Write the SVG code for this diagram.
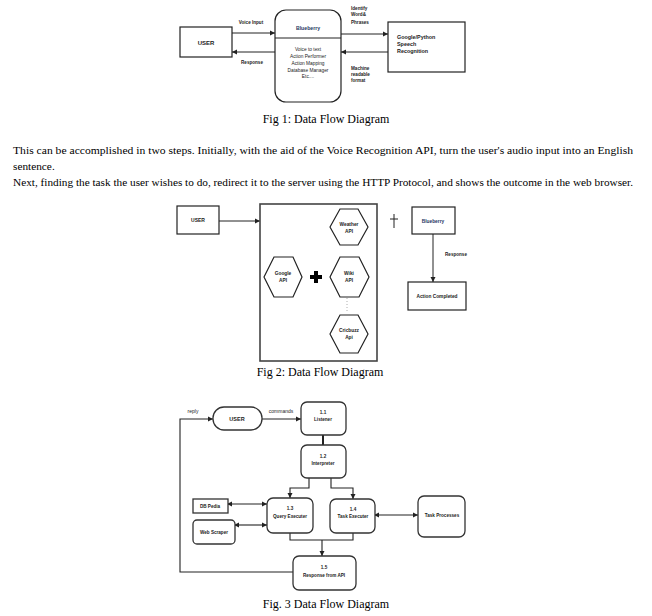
<svg xmlns="http://www.w3.org/2000/svg" width="652" height="616" viewBox="0 0 652 616">
<style>
.bg{fill:#fff}
.box{fill:#fff;stroke:#222;stroke-width:1.2}
.box3{fill:#fff;stroke:#333;stroke-width:1.3}
.ln{fill:none;stroke:#222;stroke-width:1}
.ln3{fill:none;stroke:#222;stroke-width:1.1}
.t{font-family:"Liberation Sans",Arial,sans-serif;font-weight:bold;fill:#222;text-anchor:middle}
.tn{font-family:"Liberation Sans",Arial,sans-serif;fill:#222;text-anchor:middle}
.tl{font-family:"Liberation Sans",Arial,sans-serif;font-weight:bold;fill:#222}
.cap{font-family:"Liberation Serif","Times New Roman",serif;font-size:12px;fill:#000;text-anchor:middle}
.para{font-family:"Liberation Serif","Times New Roman",serif;font-size:11.3px;fill:#000}
.blue{fill:#1f3864}
</style>
<defs>
<marker id="ah" markerUnits="userSpaceOnUse" markerWidth="6" markerHeight="6" refX="5" refY="3" orient="auto"><path d="M0,0.5 L5,3 L0,5.5 Z" fill="#222"/></marker>
<marker id="as" markerUnits="userSpaceOnUse" markerWidth="6" markerHeight="6" refX="1" refY="3" orient="auto"><path d="M5,0.5 L0,3 L5,5.5 Z" fill="#222"/></marker>
</defs>
<rect class="bg" x="0" y="0" width="652" height="616"/>

<!-- Fig 1 -->
<g id="connectors-fig1">
<line class="ln" x1="232" y1="33" x2="275" y2="33" marker-end="url(#ah)"/>
<line class="ln" x1="275" y1="52" x2="232" y2="52" marker-end="url(#ah)"/>
<line class="ln" x1="341" y1="34" x2="388" y2="34" marker-end="url(#ah)"/>
<line class="ln" x1="388" y1="52" x2="341" y2="52" marker-end="url(#ah)"/>
<text class="t" x="251" y="24" font-size="4.6">Voice Input</text>
<text class="t" x="252" y="64" font-size="4.6">Response</text>
<text class="tl" x="351" y="10" font-size="4.6">Identify</text>
<text class="tl" x="351" y="16" font-size="4.6">Word&amp;</text>
<text class="tl" x="351" y="24" font-size="4.6">Phrases</text>
<text class="tl" x="351" y="70" font-size="4.6">Machine</text>
<text class="tl" x="351" y="76" font-size="4.6">readable</text>
<text class="tl" x="351" y="82" font-size="4.6">format</text>
</g>
<g id="f1-user">
<rect class="box" x="180" y="27" width="52" height="30"/>
<text class="t" x="206" y="45" font-size="6">USER</text>
</g>
<g id="f1-blueberry">
<rect class="box" x="275" y="10" width="66" height="92" rx="11"/>
<line class="ln" x1="275" y1="38" x2="341" y2="38"/>
<text class="t blue" x="308" y="30" font-size="5.2">Blueberry</text>
<text class="tn" x="308" y="51" font-size="4.8">Voice to text</text>
<text class="tn" x="308" y="58" font-size="4.8">Action Performer</text>
<text class="tn" x="308" y="65" font-size="4.8">Action Mapping</text>
<text class="tn" x="308" y="72" font-size="4.8">Database Manager</text>
<text class="tn" x="308" y="78" font-size="4.8">Etc....</text>
</g>
<g id="f1-google">
<rect class="box" x="388" y="22" width="77" height="50"/>
<text class="tl" x="397" y="39" font-size="5.4">Google/Python</text>
<text class="tl" x="397" y="46" font-size="5.4">Speech</text>
<text class="tl" x="397" y="53" font-size="5.4">Recognition</text>
</g>
<text class="cap" x="326" y="123">Fig 1: Data Flow Diagram</text>

<text class="para" x="13" y="154" textLength="620" lengthAdjust="spacingAndGlyphs">This can be accomplished in two steps. Initially, with the aid of the Voice Recognition API, turn the user's audio input into an English</text>
<text class="para" x="13" y="170">sentence.</text>
<text class="para" x="13" y="186" textLength="620" lengthAdjust="spacingAndGlyphs">Next, finding the task the user wishes to do, redirect it to the server using the HTTP Protocol, and shows the outcome in the web browser.</text>

<!-- Fig 2 -->
<g id="connectors-fig2">
<line class="ln" x1="219" y1="221" x2="260" y2="221" marker-end="url(#ah)"/>
<line class="ln" x1="433" y1="234" x2="433" y2="282" marker-end="url(#ah)"/>
<text class="t" x="456" y="256" font-size="4.6">Response</text>
</g>
<g id="f2-user">
<rect class="box" x="177" y="206" width="42" height="28"/>
<text class="t" x="198" y="222" font-size="5">USER</text>
</g>
<g id="f2-container">
<rect fill="#fff" stroke="#444" stroke-width="1.6" x="260" y="204" width="117" height="157"/>
</g>
<g id="f2-google">
<polygon class="box" points="264,277 274,257 293,257 302,277 293,297 274,297"/>
<text class="t" x="283" y="275" font-size="4.8">Google</text>
<text class="t" x="283" y="282" font-size="4.8">API</text>
</g>
<g id="f2-plus">
<path d="M314,271 h4 v4 h4 v4 h-4 v4 h-4 v-4 h-4 v-4 h4 z" fill="#000"/>
</g>
<g id="f2-weather">
<polygon class="box" points="330,227 340,209 358,209 368,227 358,245 340,245"/>
<text class="t" x="349" y="226" font-size="4.8">Weather</text>
<text class="t" x="349" y="233" font-size="4.8">API</text>
</g>
<g id="f2-wiki">
<polygon class="box" points="330,277 340,257 359,257 369,277 359,297 340,297"/>
<text class="t" x="349" y="275" font-size="4.8">Wiki</text>
<text class="t" x="349" y="282" font-size="4.8">API</text>
</g>
<line stroke="#999" stroke-width="0.8" stroke-dasharray="1,2" x1="347" y1="298" x2="347" y2="311"/>
<g id="f2-cricbuzz">
<polygon class="box" points="330,334 340,315 358,315 368,334 358,353 340,353"/>
<text class="t" x="349" y="332" font-size="4.8">Cricbuzz</text>
<text class="t" x="349" y="339" font-size="4.8">Api</text>
</g>
<g id="f2-cross">
<line class="ln" x1="394" y1="214" x2="394" y2="228"/>
<line class="ln" x1="390" y1="219" x2="398" y2="219"/>
</g>
<g id="f2-blueberry">
<rect class="box" x="412" y="207" width="43" height="27"/>
<text class="t blue" x="433" y="223" font-size="4.8">Blueberry</text>
</g>
<g id="f2-action">
<rect class="box" x="408" y="282" width="58" height="28"/>
<text class="t" x="437" y="298" font-size="4.8">Action Completed</text>
</g>
<text class="cap" x="320" y="376">Fig 2: Data Flow Diagram</text>

<!-- Fig 3 -->
<g id="connectors-fig3">
<polyline class="ln3" points="293,572 180,572 180,419 213,419" marker-end="url(#ah)"/>
<line class="ln3" x1="262" y1="419" x2="301" y2="419" marker-end="url(#ah)"/>
<line stroke="#222" stroke-width="2" x1="323" y1="435" x2="323" y2="445"/>
<polyline class="ln3" points="309,478 309,488 290,488 290,498" marker-end="url(#ah)"/>
<polyline class="ln3" points="331,478 331,488 353,488 353,499" marker-end="url(#ah)"/>
<line class="ln3" x1="228" y1="504" x2="267" y2="504" marker-start="url(#as)" marker-end="url(#ah)"/>
<line class="ln3" x1="235" y1="525" x2="267" y2="525" marker-start="url(#as)" marker-end="url(#ah)"/>
<line class="ln3" x1="375" y1="515" x2="418" y2="515" marker-start="url(#as)" marker-end="url(#ah)"/>
<polyline class="ln3" points="290,533 290,540 353,540 353,533"/>
<line class="ln3" x1="322" y1="540" x2="322" y2="556" marker-end="url(#ah)"/>
<text class="tn" x="193" y="413" font-size="5" fill="#555">reply</text>
<text class="tn" x="281" y="413" font-size="5" fill="#555">commands</text>
</g>
<g id="f3-user">
<rect class="box3" x="213" y="407" width="49" height="23" rx="11"/>
<text class="t" x="237" y="421" font-size="5.5">USER</text>
</g>
<g id="f3-listener">
<rect class="box3" x="301" y="402" width="45" height="33" rx="6"/>
<text class="t" x="323" y="414" font-size="4.6">1.1</text>
<text class="t" x="323" y="421" font-size="4.6">Listener</text>
</g>
<g id="f3-interpreter">
<rect class="box3" x="301" y="445" width="45" height="33" rx="6"/>
<text class="t" x="323" y="458" font-size="4.6">1.2</text>
<text class="t" x="323" y="465" font-size="4.6">Interpreter</text>
</g>
<g id="f3-query">
<rect class="box3" x="267" y="498" width="46" height="35" rx="6"/>
<text class="t" x="290" y="510" font-size="4.6">1.3</text>
<text class="t" x="290" y="518" font-size="4.6">Query Executer</text>
</g>
<g id="f3-task">
<rect class="box3" x="330" y="499" width="45" height="34" rx="6"/>
<text class="t" x="353" y="511" font-size="4.6">1.4</text>
<text class="t" x="353" y="518" font-size="4.6">Task Executer</text>
</g>
<g id="f3-processes">
<rect class="box3" x="418" y="496" width="47" height="41" rx="6"/>
<text class="t" x="442" y="517" font-size="4.6">Task Processes</text>
</g>
<g id="f3-dbpedia">
<rect class="box3" x="193" y="499" width="35" height="14"/>
<text class="t" x="210" y="508" font-size="4.6">DB Pedia</text>
</g>
<g id="f3-webscraper">
<rect class="box3" x="193" y="520" width="42" height="24" rx="4"/>
<text class="t" x="214" y="534" font-size="4.6">Web Scraper</text>
</g>
<g id="f3-response">
<rect class="box3" x="293" y="556" width="63" height="34" rx="6"/>
<text class="t" x="324" y="569" font-size="4.6">1.5</text>
<text class="t" x="324" y="577" font-size="4.6">Response from API</text>
</g>
<text class="cap" x="326" y="608">Fig. 3 Data Flow Diagram</text>
</svg>
